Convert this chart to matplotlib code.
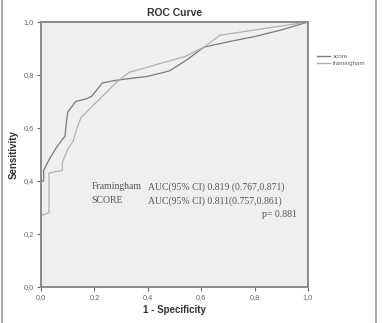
import matplotlib
matplotlib.use("Agg")
import matplotlib.pyplot as plt
from matplotlib.lines import Line2D

# ROC points
score_fpr = [0, 0, 0.01, 0.01, 0.03, 0.06, 0.09, 0.095, 0.10, 0.13, 0.17, 0.19, 0.23, 0.28,
             0.40, 0.48, 0.52, 0.55, 0.61, 0.70, 0.80, 0.90, 1.0]
score_tpr = [0, 0.40, 0.40, 0.44, 0.48, 0.53, 0.57, 0.62, 0.66, 0.70, 0.71, 0.72, 0.77, 0.78,
             0.795, 0.815, 0.84, 0.86, 0.905, 0.925, 0.945, 0.97, 1.0]
fram_fpr = [0, 0, 0.03, 0.03, 0.08, 0.08, 0.10, 0.12, 0.135, 0.15, 0.19, 0.23, 0.26, 0.28,
            0.33, 0.40, 0.54, 0.61, 0.67, 0.80, 0.90, 1.0]
fram_tpr = [0, 0.27, 0.28, 0.43, 0.44, 0.47, 0.52, 0.55, 0.60, 0.64, 0.68, 0.72, 0.75, 0.77,
            0.81, 0.83, 0.87, 0.905, 0.95, 0.97, 0.985, 1.0]
ticks = [0.0, 0.2, 0.4, 0.6, 0.8, 1.0]
tick_labels = ["0,0", "0,2", "0,4", "0,6", "0,8", "1,0"]

plt.rcParams["font.family"] = ["Liberation Sans", "DejaVu Sans"]
fig = plt.figure(figsize=(3.82, 3.23), dpi=100)
ax = fig.add_axes([41/382, 36/323, 267/382, 265/323])
ax.set_facecolor("#efefef")

ax.plot(score_fpr, score_tpr, color="#7a7a7a", lw=0.9)
ax.plot(fram_fpr, fram_tpr, color="#b0b0b0", lw=0.9)

ax.set_xlim(0, 1); ax.set_ylim(0, 1)
ax.set_xticks(ticks); ax.set_xticklabels(tick_labels)
ax.set_yticks(ticks); ax.set_yticklabels(tick_labels)
ax.tick_params(labelsize=5.3, colors="#666666", length=3, width=0.8, pad=2)
for sp in ax.spines.values():
    sp.set_color("#8a8a8a"); sp.set_linewidth(1.4)

ax.set_title("ROC Curve", fontsize=7.5, fontweight="bold", color="#333333", pad=4)
ax.set_xlabel("1 - Specificity", fontsize=7, fontweight="bold", color="#333333", labelpad=3)
ax.set_ylabel("Sensitivity", fontsize=7, fontweight="bold", color="#333333", labelpad=4)

serif = ["Liberation Serif", "DejaVu Serif"]
tc = "#555555"
ax.text(0.19, 0.378, "Framingham", fontsize=7, family=serif, color=tc, va="center")
ax.text(0.40, 0.378, "AUC(95% CI) 0.819 (0.767,0.871)", fontsize=7, family=serif, color=tc, va="center")
ax.text(0.19, 0.325, "SCORE", fontsize=7, family=serif, color=tc, va="center")
ax.text(0.40, 0.325, "AUC(95% CI) 0.811(0.757,0.861)", fontsize=7, family=serif, color=tc, va="center")
ax.text(0.96, 0.272, "p= 0.881", fontsize=7, family=serif, color=tc, va="center", ha="right")

handles = [Line2D([], [], color="#7a7a7a", lw=1.0, label="score"),
           Line2D([], [], color="#b0b0b0", lw=1.0, label="framingham")]
fig.legend(handles=handles, loc="upper left", bbox_to_anchor=(311/382, 1 - 48/323),
           fontsize=4.5, frameon=False, handlelength=2.2, handletextpad=0.4,
           labelspacing=0.3, labelcolor="#666666")

# page frame
fig.add_artist(Line2D([2/382, 2/382], [0, 1], color="#9a9a9a", lw=1.2))
fig.add_artist(Line2D([376/382, 376/382], [0, 1], color="#9a9a9a", lw=1.2))

fig.savefig("out.png", dpi=100)
